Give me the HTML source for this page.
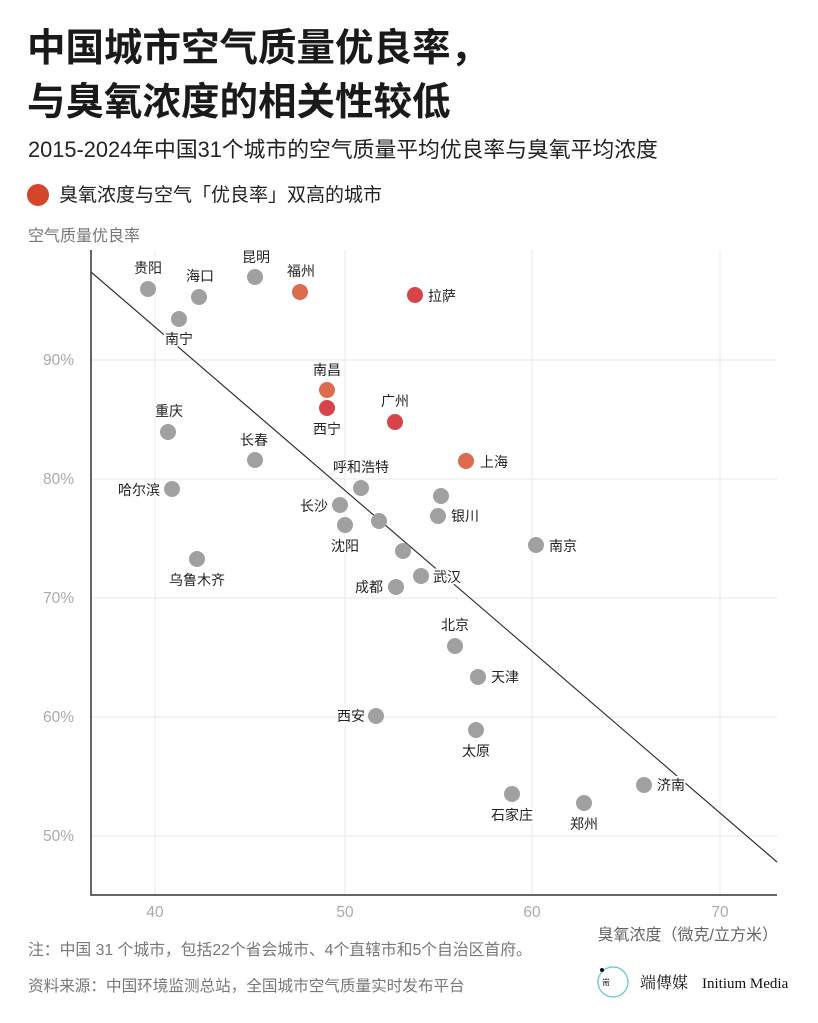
<!DOCTYPE html>
<html><head><meta charset="utf-8"><style>
body{margin:0;background:#fff;}
svg{display:block;font-family:"Liberation Sans","Noto Sans CJK SC",sans-serif;}
.l{font-size:14px;fill:#222;paint-order:stroke;stroke:#fff;stroke-width:4px;stroke-linejoin:round}
.t{font-size:15.5px;fill:#aaa}
</style></head><body>
<svg width="818" height="1023" viewBox="0 0 818 1023">
<rect width="818" height="1023" fill="#fff"/>
<text x="27" y="61" font-size="38.5" font-weight="bold" fill="#1a1a1a">中国城市空气质量优良率，</text>
<text x="27" y="115" font-size="38.5" font-weight="bold" fill="#1a1a1a">与臭氧浓度的相关性较低</text>
<text x="28" y="157" font-size="21.8" fill="#222">2015-2024年中国31个城市的空气质量平均优良率与臭氧平均浓度</text>
<circle cx="38" cy="195" r="11" fill="#d4452a"/>
<text x="59" y="201" font-size="19" fill="#222">臭氧浓度与空气「优良率」双高的城市</text>
<text x="28" y="241" font-size="16" fill="#777">空气质量优良率</text>
<g stroke="#ececec" stroke-width="1.2">
<line x1="91" y1="360" x2="777" y2="360"/><line x1="91" y1="479" x2="777" y2="479"/>
<line x1="91" y1="598" x2="777" y2="598"/><line x1="91" y1="717" x2="777" y2="717"/>
<line x1="91" y1="836" x2="777" y2="836"/>
<line x1="155" y1="250" x2="155" y2="895"/><line x1="345" y1="250" x2="345" y2="895"/>
<line x1="532" y1="250" x2="532" y2="895"/><line x1="720" y1="250" x2="720" y2="895"/>
</g>
<polyline points="91,250 91,895 777,895" fill="none" stroke="#333" stroke-width="1.5"/>
<g class="t" text-anchor="end">
<text x="74" y="365">90%</text><text x="74" y="484">80%</text><text x="74" y="603">70%</text><text x="74" y="722">60%</text><text x="74" y="841">50%</text>
</g>
<g class="t" text-anchor="middle">
<text x="155" y="917">40</text><text x="345" y="917">50</text><text x="532" y="917">60</text><text x="720" y="917">70</text>
</g>
<text x="778" y="940" font-size="16" fill="#666" text-anchor="end">臭氧浓度（微克/立方米）</text>
<line x1="91" y1="272" x2="777" y2="862" stroke="#333" stroke-width="1.2"/>
<g fill="#a0a0a0">
<circle cx="148" cy="289" r="8"/><circle cx="199" cy="297" r="8"/><circle cx="179" cy="319" r="8"/>
<circle cx="255" cy="277" r="8"/><circle cx="168" cy="432" r="8"/><circle cx="255" cy="460" r="8"/>
<circle cx="361" cy="488" r="8"/><circle cx="172" cy="489" r="8"/><circle cx="340" cy="505" r="8"/>
<circle cx="345" cy="525" r="8"/><circle cx="379" cy="521" r="8"/><circle cx="441" cy="496" r="8"/>
<circle cx="438" cy="516" r="8"/><circle cx="403" cy="551" r="8"/><circle cx="536" cy="545" r="8"/>
<circle cx="197" cy="559" r="8"/><circle cx="396" cy="587" r="8"/><circle cx="421" cy="576" r="8"/>
<circle cx="455" cy="646" r="8"/><circle cx="478" cy="677" r="8"/><circle cx="376" cy="716" r="8"/>
<circle cx="476" cy="730" r="8"/><circle cx="512" cy="794" r="8"/><circle cx="584" cy="803" r="8"/>
<circle cx="644" cy="785" r="8"/>
</g>
<g fill="#dd6b4d"><circle cx="300" cy="292" r="8"/><circle cx="327" cy="390" r="8"/><circle cx="466" cy="461" r="8"/></g>
<g fill="#d6444a"><circle cx="415" cy="295" r="8"/><circle cx="327" cy="408" r="8"/><circle cx="395" cy="422" r="8"/></g>
<g class="l" text-anchor="middle">
<text x="148" y="273">贵阳</text><text x="200" y="281">海口</text><text x="179" y="344">南宁</text>
<text x="256" y="262">昆明</text><text x="301" y="276">福州</text><text x="327" y="375">南昌</text>
<text x="327" y="434">西宁</text><text x="395" y="406">广州</text><text x="169" y="416">重庆</text>
<text x="254" y="445">长春</text><text x="361" y="472">呼和浩特</text><text x="345" y="551">沈阳</text>
<text x="197" y="585">乌鲁木齐</text><text x="455" y="630">北京</text><text x="476" y="756">太原</text>
<text x="512" y="820">石家庄</text><text x="584" y="829">郑州</text>
</g>
<g class="l">
<text x="428" y="301">拉萨</text><text x="480" y="467">上海</text><text x="451" y="521">银川</text>
<text x="549" y="551">南京</text><text x="433" y="582">武汉</text><text x="491" y="682">天津</text>
<text x="657" y="790">济南</text>
</g>
<g class="l" text-anchor="end">
<text x="160" y="495">哈尔滨</text><text x="328" y="511">长沙</text><text x="383" y="592">成都</text>
<text x="365" y="721">西安</text>
</g>
<text x="28" y="955" font-size="15.8" fill="#777">注：中国 31 个城市，包括22个省会城市、4个直辖市和5个自治区首府。</text>
<text x="28" y="991" font-size="15.6" fill="#777">资料来源：中国环境监测总站，全国城市空气质量实时发布平台</text>
<circle cx="613" cy="982" r="15" fill="none" stroke="#5bc4cf" stroke-width="1.2"/>
<circle cx="602" cy="970" r="2" fill="#111"/>
<text x="606" y="985" font-size="8" fill="#111" text-anchor="middle">耑</text>
<text x="640" y="988" font-size="16" fill="#111" font-family="Liberation Serif,Noto Serif CJK SC,serif">端傳媒</text>
<text x="702" y="988" font-size="15" fill="#111" font-family="Liberation Serif,serif">Initium Media</text>
</svg>
</body></html>
